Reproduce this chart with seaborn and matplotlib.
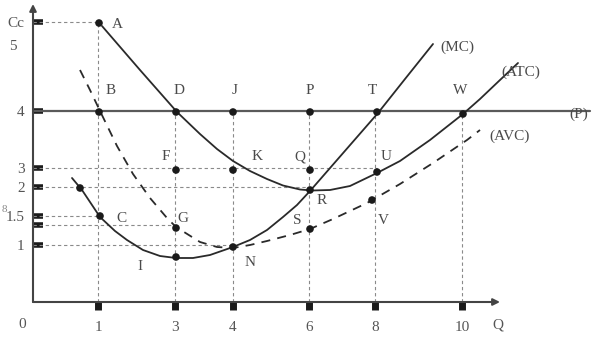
import matplotlib
matplotlib.use("Agg")
import matplotlib.pyplot as plt
import seaborn as sns
import pandas as pd

# ---- data (diagram units; axis is not to scale) ----
q_tick_pos = [6.5, 14.2, 20.0, 27.6, 34.2, 42.9]
q_tick_labels = ["1", "3", "4", "6", "8", "10"]

c_tick_pos = [28.0, 19.1, 13.4, 11.5, 8.6, 7.7, 5.7]
c_tick_labels = ["Cc", "4", "3", "2", "1.5", "", "1"]

atc_x = [6.9, 10.7, 14.4, 16.7, 18.4, 20.0, 21.7, 23.4, 25.0, 26.7, 27.9, 29.7,
         31.7, 34.4, 36.7, 39.7, 43.0, 44.7, 46.7, 48.5]
atc_y = [27.6, 23.2, 19.0, 16.8, 15.3, 14.1, 13.1, 12.3, 11.65, 11.25, 11.15, 11.2,
         11.6, 12.9, 14.1, 16.2, 18.8, 20.3, 22.2, 23.9]

mc_x = [3.9, 4.9, 6.7, 8.2, 9.4, 11.0, 12.7, 14.3, 16.0, 17.7, 20.0, 21.7, 23.4,
        25.0, 26.4, 27.7, 31.1, 34.5, 37.2, 40.0]
mc_y = [12.4, 11.2, 8.5, 7.1, 6.2, 5.2, 4.6, 4.4, 4.4, 4.7, 5.5, 6.2, 7.2,
        8.5, 9.7, 11.1, 15.0, 18.9, 22.3, 25.8]

avc_x = [4.7, 5.7, 6.7, 8.4, 10.0, 11.7, 13.4, 14.3, 16.7, 18.4, 20.0, 21.7, 23.4,
         25.7, 27.7, 30.0, 33.4, 36.7, 40.0, 43.4, 44.7]
avc_y = [23.2, 21.2, 19.1, 15.6, 12.8, 10.4, 8.4, 7.5, 6.0, 5.5, 5.4, 5.7, 6.1,
         6.7, 7.3, 8.3, 9.9, 11.8, 13.9, 16.2, 17.2]

price_level = 19.1
price_end = 55.7

pt_names = ["A", "B", "D", "J", "P", "T", "W", "F", "K", "Q", "U", "R", "S", "V",
            "G", "C", "I", "N", ""]
pt_x = [6.6, 6.6, 14.3, 20.0, 27.7, 34.4, 43.0, 14.3, 20.0, 27.7, 34.4, 27.7, 27.7,
        33.9, 14.3, 6.7, 14.3, 20.0, 4.7]
pt_y = [27.9, 19.0, 19.0, 19.0, 19.0, 19.0, 18.8, 13.2, 13.2, 13.2, 13.0, 11.2, 7.3,
        10.2, 7.4, 8.6, 4.5, 5.5, 11.4]
lbl_x = [8.4, 7.8, 14.6, 20.2, 27.7, 33.9, 42.7, 13.3, 22.4, 26.7, 35.3, 28.9, 26.4,
         35.0, 15.0, 8.8, 10.7, 21.7, 0]
lbl_y = [27.7, 21.2, 21.2, 21.2, 21.2, 21.2, 21.1, 14.6, 14.5, 14.5, 14.6, 10.2, 8.2,
         8.2, 8.4, 8.4, 3.6, 3.9, 0]

curve_names = ["(MC)", "(ATC)", "(P)", "(AVC)"]
curve_lbl_x = [42.4, 48.8, 54.6, 47.7]
curve_lbl_y = [25.5, 23.0, 18.8, 16.6]

# guide lines (dashed): verticals from point down to axis, horizontals from axis to point
vguide_x = [6.5, 14.2, 20.0, 27.6, 34.2, 42.9]
vguide_top = [28.0, 19.1, 19.1, 19.1, 19.1, 19.1]
hguide_y = [28.0, 13.4, 11.5, 8.6, 7.7, 5.7]
hguide_end = [6.6, 34.4, 27.7, 6.7, 14.3, 20.0]

# ---- drawing ----
sns.set_style("white")
plt.rcParams["font.family"] = ["Liberation Serif", "DejaVu Serif"]

fig = plt.figure(figsize=(6.05, 3.44), dpi=100)
ax = fig.add_axes([33 / 605, 42 / 344, 572 / 605, 302 / 344])
ax.set_xlim(0, 57.2)
ax.set_ylim(0, 30.2)
for s in ax.spines.values():
    s.set_visible(False)

guide_kw = dict(color="#8a8a8a", lw=0.8, linestyle=(0, (3, 2.5)), zorder=1)
for gx, gt in zip(vguide_x, vguide_top):
    ax.plot([gx, gx], [0, gt], **guide_kw)
for gy, ge in zip(hguide_y, hguide_end):
    ax.plot([0, ge], [gy, gy], **guide_kw)

# price line
ax.plot([0, price_end], [price_level, price_level], color="#5a5a5a", lw=1.6, zorder=2)

df_atc = pd.DataFrame({"x": atc_x, "y": atc_y})
df_mc = pd.DataFrame({"x": mc_x, "y": mc_y})
df_avc = pd.DataFrame({"x": avc_x, "y": avc_y})
line_kw = dict(color="#2a2a2a", lw=1.3, zorder=3, solid_joinstyle="round")
sns.lineplot(data=df_atc, x="x", y="y", sort=False, ax=ax, **line_kw)
sns.lineplot(data=df_mc, x="x", y="y", sort=False, ax=ax, **line_kw)
sns.lineplot(data=df_avc, x="x", y="y", sort=False, ax=ax, color="#2a2a2a", lw=1.3,
             linestyle=(0, (5, 4)), zorder=3)

df_pts = pd.DataFrame({"x": pt_x, "y": pt_y})
sns.scatterplot(data=df_pts, x="x", y="y", ax=ax, color="#1a1a1a", s=30,
                edgecolor="none", zorder=5)

for n, lx, ly in zip(pt_names, lbl_x, lbl_y):
    if n:
        ax.text(lx, ly, n, fontsize=11, color="#4a4a4a", ha="center", va="center")
for n, lx, ly in zip(curve_names, curve_lbl_x, curve_lbl_y):
    ax.text(lx, ly, n, fontsize=11, color="#4a4a4a", ha="center", va="center")

# axes with arrows
ax.annotate("", xy=(46.7, 0), xytext=(0, 0),
            arrowprops=dict(arrowstyle="-|>", color="#444444", lw=1.5,
                            mutation_scale=10, shrinkA=0, shrinkB=0),
            annotation_clip=False)
ax.annotate("", xy=(0, 29.8), xytext=(0, 0),
            arrowprops=dict(arrowstyle="-|>", color="#444444", lw=1.5,
                            mutation_scale=10, shrinkA=0, shrinkB=0),
            annotation_clip=False)

ax.set_xticks(q_tick_pos, labels=q_tick_labels)
ax.set_yticks(c_tick_pos, labels=c_tick_labels)
ax.set_yticks([25.7], labels=["5"], minor=True)
ax.tick_params(axis="x", which="major", bottom=True, direction="out", length=6,
               width=5, color="#1a1a1a", pad=8, labelsize=11, labelcolor="#555555")
ax.tick_params(axis="y", which="major", left=True, direction="in", length=7, width=4,
               color="#1a1a1a", pad=6, labelsize=11, labelcolor="#555555")
ax.tick_params(axis="y", which="minor", left=True, length=0, pad=12, labelsize=11,
               labelcolor="#555555")
ax.set_xlabel("")
ax.set_ylabel("")

ax.text(-1.1, -2.3, "0", fontsize=11, color="#555555", ha="center", va="center",
        clip_on=False)
ax.text(46.5, -2.3, "Q", fontsize=11, color="#555555", ha="center", va="center",
        clip_on=False)
ax.text(-2.9, 9.2, "8", fontsize=8, color="#888888", ha="center", va="center",
        clip_on=False)

fig.savefig("out.png", dpi=100)
